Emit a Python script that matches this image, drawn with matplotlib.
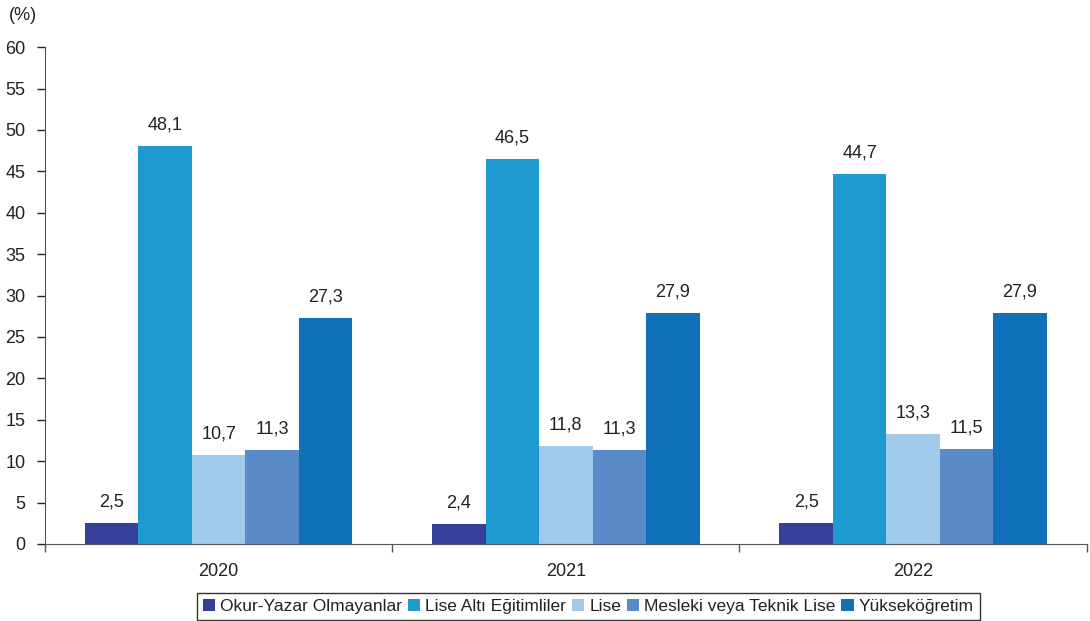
import matplotlib.pyplot as plt
import numpy as np

plt.rcParams['font.family'] = ['Liberation Sans', 'DejaVu Sans']

years = ['2020', '2021', '2022']
series_names = ['Okur-Yazar Olmayanlar', 'Lise Altı Eğitimliler', 'Lise',
                'Mesleki veya Teknik Lise', 'Yükseköğretim']
okur_yazar_olmayan = [2.5, 2.4, 2.5]
lise_alti = [48.1, 46.5, 44.7]
lise = [10.7, 11.8, 13.3]
mesleki_teknik = [11.3, 11.3, 11.5]
yuksekogretim = [27.3, 27.9, 27.9]
values = [okur_yazar_olmayan, lise_alti, lise, mesleki_teknik, yuksekogretim]
colors = ['#36409a', '#1e9ad0', '#a0c9ea', '#5a8bc8', '#1170ba']

fig = plt.figure(figsize=(10.9, 6.21), dpi=100)
ax = fig.add_axes([0.0413, 0.124, 0.9557, 0.800])

x = np.arange(len(years))
w = 0.154
for i, (vals, c, name) in enumerate(zip(values, colors, series_names)):
    pos = x + (i - 2) * w
    bars = ax.bar(pos, vals, width=w, color=c, label=name, linewidth=0)
    for b, v in zip(bars, vals):
        ax.annotate(f'{v:.1f}'.replace('.', ','), (b.get_x() + w / 2, v),
                    xytext=(0, 9), textcoords='offset points',
                    ha='center', va='bottom', fontsize=13, color='#222222')

ax.set_xlim(-0.5, 2.5)
ax.set_ylim(0, 60)
ax.set_yticks(range(0, 61, 5))
ax.tick_params(axis='y', labelsize=13, colors='#222222', length=6, width=1, pad=8)

ax.set_xticks([-0.5, 0.5, 1.5, 2.5])
ax.set_xticklabels([])
ax.set_xticks(x, minor=True)
ax.set_xticklabels(years, minor=True, fontsize=13, color='#222222')
ax.tick_params(axis='x', which='major', length=6, width=1, color='#555555')
ax.tick_params(axis='x', which='minor', length=0, pad=14)

for s in ['top', 'right']:
    ax.spines[s].set_visible(False)
ax.spines['left'].set_color('#555555')
ax.spines['bottom'].set_color('#555555')

fig.text(0.008, 0.975, '(%)', fontsize=13, color='#222222', va='center')

leg_h = 0.052
leg = ax.legend(loc='upper left', bbox_to_anchor=(0.1807, 0.0451 - leg_h, 0.7183, leg_h),
                bbox_transform=fig.transFigure, mode='expand', ncol=5,
                fontsize=12.5, frameon=True, fancybox=False, edgecolor='black',
                handlelength=0.7, handleheight=0.7, handletextpad=0.3,
                columnspacing=0.4, borderpad=0.35, borderaxespad=0)
leg.get_frame().set_linewidth(1)
for t in leg.get_texts():
    t.set_color('#222222')

fig.savefig('out.png', dpi=100)
